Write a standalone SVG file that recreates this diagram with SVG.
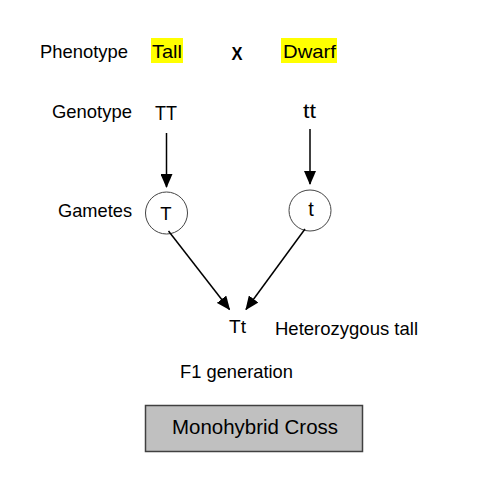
<svg xmlns="http://www.w3.org/2000/svg" width="501" height="485" viewBox="0 0 501 485">
<style>
text{font-family:"Liberation Sans",Arial,sans-serif;font-size:18.5px;fill:#000}
.hl{fill:#ffff00}
.c{fill:#fff;stroke:#444;stroke-width:1}
.ln{stroke:#000;stroke-width:1.5;fill:none;marker-end:url(#ah)}
</style>
<defs>
<marker id="ah" markerUnits="userSpaceOnUse" markerWidth="14" markerHeight="12" refX="13" refY="6" orient="auto" viewBox="0 0 14 12">
<path d="M0,0 L14,6 L0,12 Z" fill="#000"/>
</marker>
</defs>
<rect width="501" height="485" fill="#fff"/>
<g id="labels">
<text x="40" y="58" textLength="88" lengthAdjust="spacingAndGlyphs">Phenotype</text>
<text x="52" y="118" textLength="80" lengthAdjust="spacingAndGlyphs">Genotype</text>
<text x="58" y="217" textLength="74" lengthAdjust="spacingAndGlyphs">Gametes</text>
</g>
<g id="tall">
<rect class="hl" x="151" y="38" width="32" height="25"/>
<text x="152" y="58" textLength="30" lengthAdjust="spacingAndGlyphs">Tall</text>
</g>
<g id="cross-x">
<text x="237" y="60" text-anchor="middle" font-weight="bold" textLength="11" lengthAdjust="spacingAndGlyphs" style="font-size:18.5px">X</text>
</g>
<g id="dwarf">
<rect class="hl" x="281" y="38" width="56" height="25"/>
<text x="283" y="58" textLength="53" lengthAdjust="spacingAndGlyphs">Dwarf</text>
</g>
<g id="TT">
<text x="155" y="120" textLength="22" lengthAdjust="spacingAndGlyphs" style="font-size:19.5px">TT</text>
</g>
<g id="tt">
<text x="303" y="118" textLength="13" lengthAdjust="spacingAndGlyphs" style="font-size:19.5px">tt</text>
</g>
<g id="gamete-T">
<ellipse class="c" cx="166.5" cy="213" rx="21" ry="21"/>
<text x="166" y="220" text-anchor="middle">T</text>
</g>
<g id="gamete-t">
<ellipse class="c" cx="310" cy="210.5" rx="21" ry="20.5"/>
<text x="311" y="216" text-anchor="middle" style="font-size:20px">t</text>
</g>
<g id="Tt">
<text x="229" y="333" textLength="17" lengthAdjust="spacingAndGlyphs">Tt</text>
</g>
<g id="heterozygous">
<text x="275" y="335" textLength="143" lengthAdjust="spacingAndGlyphs">Heterozygous tall</text>
</g>
<g id="f1">
<text x="180" y="378" textLength="113" lengthAdjust="spacingAndGlyphs">F1 generation</text>
</g>
<g id="title">
<rect x="145.5" y="405.5" width="217" height="46" fill="#c0c0c0" stroke="#404040" stroke-width="1.5"/>
<text x="172" y="434" textLength="166" lengthAdjust="spacingAndGlyphs" style="font-size:20px">Monohybrid Cross</text>
</g>
<g id="connectors">
<line class="ln" x1="166.5" y1="133" x2="166.5" y2="187"/>
<line class="ln" x1="310" y1="129" x2="310" y2="184"/>
<line class="ln" x1="168.5" y1="231" x2="229.5" y2="309.5"/>
<line class="ln" x1="305" y1="229" x2="246" y2="309.5"/>
</g>
</svg>
